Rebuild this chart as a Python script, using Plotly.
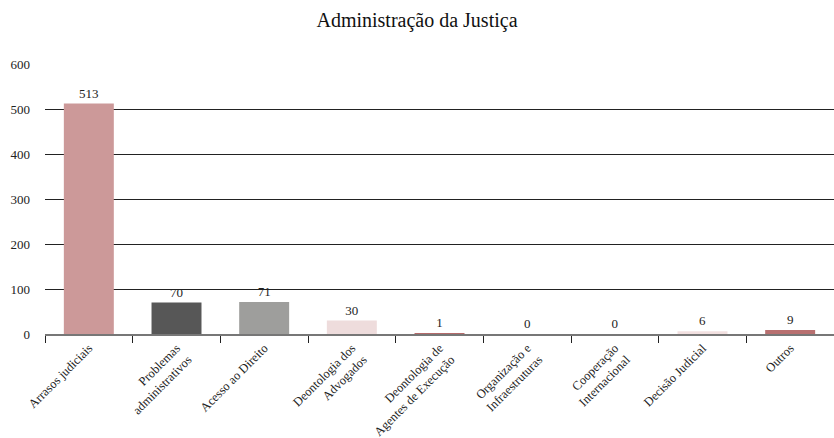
import plotly.graph_objects as go

categories = ["Arrasos judiciais", "Problemas<br>administrativos", "Acesso ao Direito",
              "Deontologia dos<br>Advogados", "Deontologia de<br>Agentes de Execução",
              "Organização e<br>Infraestruturas", "Cooperação<br>Internacional",
              "Decisão Judicial", "Outros"]
values = [513, 70, 71, 30, 1, 0, 0, 6, 9]
colors = ["#CC9999", "#575757", "#9E9E9C", "#EEDCDC", "#B46A6A",
          "#B46A6A", "#B46A6A", "#F2E0E0", "#B87070"]

FONT = "Times New Roman"

fig = go.Figure(go.Bar(
    x=categories, y=values, marker=dict(color=colors, line=dict(width=0)),
    width=0.57, text=[str(v) for v in values], textposition="outside",
    textfont=dict(family=FONT, size=13, color="#222"), cliponaxis=False,
))

fig.update_layout(
    width=834, height=438,
    margin=dict(l=45, r=0, t=64, b=104),
    paper_bgcolor="white", plot_bgcolor="white",
    font=dict(family=FONT, size=13, color="#222"),
    title=dict(text="Administração da Justiça", x=0.5, xanchor="center",
               y=0.955, yanchor="middle", font=dict(family="Liberation Serif", size=20, color="#111")),
    showlegend=False,
)
fig.update_xaxes(
    tickangle=-45, tickson="boundaries", ticks="outside", ticklen=7, tickcolor="#222",
    showline=True, linecolor="#777", linewidth=2, showgrid=False,
    tickfont=dict(family="serif", size=12.5, color="#222"),
)
fig.update_yaxes(
    range=[0, 601], tickvals=[0, 100, 200, 300, 400, 500, 600],
    showgrid=True, gridcolor="#222", gridwidth=1,
    zeroline=False, ticks="", ticklabelstandoff=14,
    tickfont=dict(family=FONT, size=13, color="#222"),
)

fig.write_html("out.html", config={"displayModeBar": False},
               post_script="document.body.style.margin='0';")
